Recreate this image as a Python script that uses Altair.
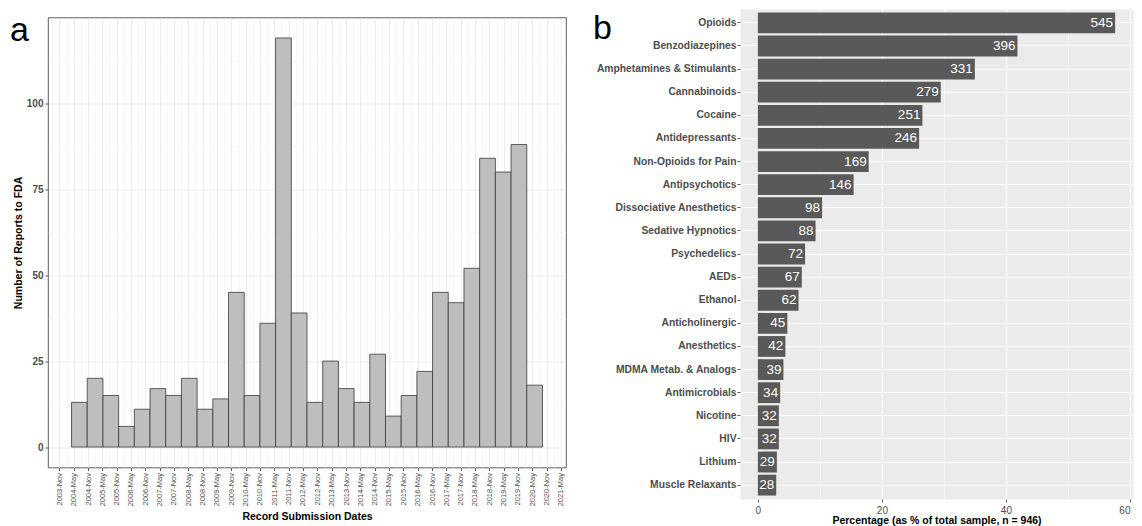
import altair as alt
import numpy as np
import pandas as pd

# ---------------- Panel a data ----------------
tick_labels = [
    "2003-Nov", "2004-May", "2004-Nov", "2005-May", "2005-Nov", "2006-May",
    "2006-Nov", "2007-May", "2007-Nov", "2008-May", "2008-Nov", "2009-May",
    "2009-Nov", "2010-May", "2010-Nov", "2011-May", "2011-Nov", "2012-May",
    "2012-Nov", "2013-May", "2013-Nov", "2014-May", "2014-Nov", "2015-May",
    "2015-Nov", "2016-May", "2016-Nov", "2017-May", "2017-Nov", "2018-May",
    "2018-Nov", "2019-May", "2019-Nov", "2020-May", "2020-Nov", "2021-May",
]
report_counts = [13, 20, 15, 6, 11, 17, 15, 20, 11, 14, 45, 15, 36, 119, 39,
                 13, 25, 17, 13, 27, 9, 15, 22, 45, 42, 52, 84, 80, 88, 18]
first_bin_start = "2004-04-05"
bin_days = 200
y_ticks_a = [0, 25, 50, 75, 100]
y_minor_a = [12.5, 37.5, 62.5, 87.5, 112.5]

# ---------------- Panel b data ----------------
drug_classes = [
    "Opioids", "Benzodiazepines", "Amphetamines & Stimulants", "Cannabinoids",
    "Cocaine", "Antidepressants", "Non-Opioids for Pain", "Antipsychotics",
    "Dissociative Anesthetics", "Sedative Hypnotics", "Psychedelics", "AEDs",
    "Ethanol", "Anticholinergic", "Anesthetics", "MDMA Metab. & Analogs",
    "Antimicrobials", "Nicotine", "HIV", "Lithium", "Muscle Relaxants",
]
drug_counts = [545, 396, 331, 279, 251, 246, 169, 146, 98, 88, 72, 67, 62,
               45, 42, 39, 34, 32, 32, 29, 28]
n_total = 946
x_ticks_b = [0, 20, 40, 60]
x_minor_b = [10, 30, 50]

FONT = "Liberation Sans"
TXT = "#4D4D4D"
TICK = "#333333"


def dt(ts):
    return alt.DateTime(year=int(ts.year), month=int(ts.month), date=int(ts.day),
                        hours=int(ts.hour))


# ---------------- Panel a ----------------
starts = pd.Timestamp(first_bin_start) + pd.to_timedelta(
    np.arange(len(report_counts)) * bin_days, unit="D")
ends = starts + pd.Timedelta(days=bin_days)
hist_df = pd.DataFrame({"start": starts, "end": ends, "count": report_counts})

lo, hi = starts[0], ends[-1]
pad = (hi - lo) * 0.05
x_dom = [dt(lo - pad), dt(hi + pad)]
ymax = max(report_counts)
y_dom = [-0.05 * ymax, ymax * 1.05]

tick_dates = pd.to_datetime(tick_labels, format="%Y-%b")
minor_dates = [d - pd.DateOffset(months=3) for d in tick_dates]
minor_dates = [d for d in minor_dates if (lo - pad) <= d <= (hi + pad)]

bars_a = alt.Chart(hist_df).mark_rect(
    fill="#BEBEBE", stroke="#3A3A3A", strokeWidth=0.8
).encode(
    x=alt.X("start:T", title="Record Submission Dates",
            scale=alt.Scale(domain=x_dom),
            axis=alt.Axis(values=[dt(d) for d in tick_dates], format="%Y-%b",
                          labelAngle=270, labelAlign="right", labelBaseline="middle",
                          labelFontSize=7.5, labelColor=TXT, labelPadding=2,
                          labelOverlap=False, labelFlush=False,
                          tickSize=3, tickColor=TICK, tickWidth=0.8, domain=False,
                          grid=True, gridColor="#E8E8E8", gridWidth=0.8,
                          titleFontSize=10.5, titleFontWeight="bold",
                          titleColor="black", titlePadding=6)),
    x2="end:T",
    y=alt.Y("count:Q", title="Number of Reports to FDA",
            scale=alt.Scale(domain=y_dom, nice=False, zero=False),
            axis=alt.Axis(values=y_ticks_a, labelFontSize=10, labelFontWeight="bold",
                          labelColor=TXT, labelPadding=2, tickSize=3, tickColor=TICK,
                          tickWidth=0.8, domain=False, grid=True,
                          gridColor="#E8E8E8", gridWidth=0.8,
                          titleFontSize=10.5, titleFontWeight="bold",
                          titleColor="black", titlePadding=3)),
    y2=alt.datum(0),
)

minor_a = alt.Chart(hist_df).mark_rect(opacity=0).encode(
    x=alt.X("start:T",
            axis=alt.Axis(values=[dt(d) for d in minor_dates], orient="top",
                          labels=False, ticks=False, domain=False, title=None,
                          grid=True, gridColor="#F2F2F2", gridWidth=0.6,
                          minExtent=0, maxExtent=0)),
    x2="end:T",
    y=alt.Y("count:Q",
            axis=alt.Axis(values=y_minor_a, orient="right", labels=False, ticks=False,
                          domain=False, title=None, grid=True, gridColor="#F2F2F2",
                          gridWidth=0.6, minExtent=0, maxExtent=0)),
    y2=alt.datum(0),
)

letter_a = alt.Chart(pd.DataFrame({"panel": ["a"]})).mark_text(
    align="left", baseline="alphabetic", fontSize=34, color="black", font=FONT
).encode(x=alt.value(-38), y=alt.value(23.5), text="panel:N")

panel_a = alt.layer(bars_a, minor_a, letter_a).resolve_axis(
    x="independent", y="independent"
).properties(
    width=518, height=450,
    view=alt.ViewBackground(fill="white", stroke=TICK, strokeWidth=0.8),
)

# small empty strip that lowers panel a relative to panel b
spacer = alt.Chart(pd.DataFrame({"panel": [""]})).mark_point(
    opacity=0, size=1
).encode(x=alt.value(1), y=alt.value(0.5)).properties(width=518, height=1)

column_a = alt.vconcat(spacer, panel_a, spacing=7.5, bounds="flush")

# ---------------- Panel b ----------------
drug_df = pd.DataFrame({"drug": drug_classes, "count": drug_counts})
drug_df["pct"] = drug_df["count"] / n_total * 100
pmax = drug_df["pct"].max()
xb_dom = [-0.05 * pmax, pmax * 1.05]

y_b = alt.Y("drug:N", sort=drug_classes, title=None,
            scale=alt.Scale(paddingInner=0.1, paddingOuter=0.15),
            axis=alt.Axis(labelFontSize=10.3, labelFontWeight="bold", labelColor=TXT,
                          labelPadding=1, labelLimit=0, tickSize=3, tickColor=TICK,
                          tickWidth=0.8, domain=False, grid=True, gridColor="white",
                          gridWidth=1.1, bandPosition=0.5))

last_tick_b = max(x_ticks_b)
bars_b = alt.Chart(drug_df).mark_bar(color="#595959").encode(
    x=alt.X("pct:Q", title=f"Percentage (as % of total sample, n =  {n_total})",
            scale=alt.Scale(domain=xb_dom, nice=False, zero=False),
            axis=alt.Axis(values=x_ticks_b, labelFontSize=10, labelColor=TXT,
                          labelPadding=3, labelFlush=False,
                          labelAlign={"condition": {"test": f"datum.value == {last_tick_b}",
                                                    "value": "right"},
                                      "value": "center"},
                          tickSize=3, tickColor=TICK, tickWidth=0.8, domain=False,
                          grid=True, gridColor="white", gridWidth=1.1,
                          titleFontSize=10.5, titleFontWeight="bold",
                          titleColor="black", titlePadding=0)),
    x2=alt.datum(0),
    y=y_b,
)

minor_b = alt.Chart(drug_df).mark_point(opacity=0, size=1).encode(
    x=alt.X("pct:Q",
            axis=alt.Axis(values=x_minor_b, orient="top", labels=False, ticks=False,
                          domain=False, title=None, grid=True, gridColor="white",
                          gridWidth=0.5, minExtent=0, maxExtent=0)),
    y=y_b,
)

labels_b = alt.Chart(drug_df).mark_text(
    align="right", baseline="middle", dx=-2, color="white", fontSize=13.5, font=FONT
).encode(x=alt.X("pct:Q", axis=None), y=y_b, text="count:Q")

letter_b = alt.Chart(pd.DataFrame({"panel": ["b"]})).mark_text(
    align="left", baseline="alphabetic", fontSize=34, color="black", font=FONT
).encode(x=alt.value(-147), y=alt.value(30), text="panel:N")

panel_b = alt.layer(bars_b, minor_b, labels_b, letter_b).resolve_axis(
    x="independent"
).properties(
    width=393, height=490,
    view=alt.ViewBackground(fill="#EBEBEB", stroke="transparent"),
)

chart = alt.hconcat(column_a, panel_b, spacing=25).properties(
    padding={"left": 1, "top": 0, "right": 0, "bottom": 0}
).configure(font=FONT).configure_view(stroke="transparent")

chart.save("out.html", embed_options={"renderer": "svg", "actions": False})
